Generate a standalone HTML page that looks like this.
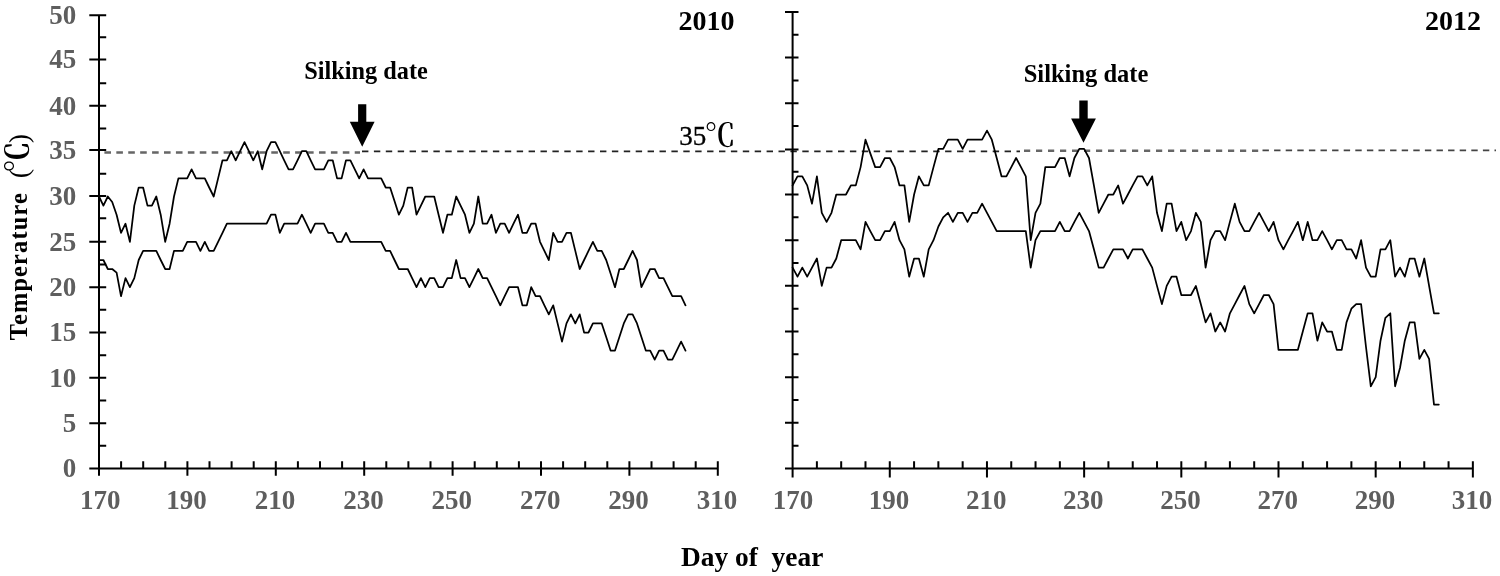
<!DOCTYPE html>
<html lang="en"><head><meta charset="utf-8"><title>Temperature by day of year</title>
<style>html,body{margin:0;padding:0;background:#fff}body{width:1500px;height:576px;overflow:hidden}svg{display:block}</style>
</head><body>
<svg width="1500" height="576" viewBox="0 0 1500 576">
<rect width="1500" height="576" fill="#fff"/>
<path d="M104.4 152.5H360" stroke="#666" stroke-width="2.6" stroke-dasharray="6.6 5.32" fill="none"/>
<path d="M362 151.4H1020" stroke="#222" stroke-width="1.7" stroke-dasharray="6.4 5.5" fill="none"/>
<path d="M1024 150.8H1260" stroke="#666" stroke-width="2.6" stroke-dasharray="6.2 5.8" fill="none"/>
<path d="M1262.5 150.4H1496" stroke="#444" stroke-width="1.7" stroke-dasharray="6.4 5.2" fill="none"/>
<path d="M99.00 15.20V475.80M89.30 468.50H717.80M89.30 423.17H106.20M89.30 377.84H106.20M89.30 332.51H106.20M89.30 287.18H106.20M89.30 241.85H106.20M89.30 196.00H106.20M89.30 149.90H106.20M89.30 105.86H106.20M89.30 59.40H106.20M89.30 15.20H106.20M99.00 445.83H106.20M99.00 400.50H106.20M99.00 355.18H106.20M99.00 309.85H106.20M99.00 264.51H106.20M99.00 218.30H106.20M99.00 173.85H106.20M99.00 128.52H106.20M99.00 83.19H106.20M99.00 37.30H106.20M187.40 461.20V475.80M275.80 461.20V475.80M364.20 461.20V475.80M452.60 461.20V475.80M541.00 461.20V475.80M629.40 461.20V475.80M717.80 461.20V475.80M121.10 461.20V468.50M143.20 461.20V468.50M165.30 461.20V468.50M209.50 461.20V468.50M231.60 461.20V468.50M253.70 461.20V468.50M297.90 461.20V468.50M320.00 461.20V468.50M342.10 461.20V468.50M386.30 461.20V468.50M408.40 461.20V468.50M430.50 461.20V468.50M474.70 461.20V468.50M496.80 461.20V468.50M518.90 461.20V468.50M563.10 461.20V468.50M585.20 461.20V468.50M607.30 461.20V468.50M651.50 461.20V468.50M673.60 461.20V468.50M695.70 461.20V468.50" stroke="#000" stroke-width="2" fill="none"/>
<path d="M792.60 11.90V477.40M785.00 468.50H1472.86M785.00 422.84H798.50M785.00 377.18H798.50M785.00 331.52H798.50M785.00 285.86H798.50M785.00 240.20H798.50M785.00 194.54H798.50M785.00 149.50H798.50M785.00 103.22H798.50M785.00 57.56H798.50M785.00 11.90H798.50M792.60 445.67H798.50M792.60 400.01H798.50M792.60 354.35H798.50M792.60 308.69H798.50M792.60 263.03H798.50M792.60 217.37H798.50M792.60 171.71H798.50M792.60 126.05H798.50M792.60 80.39H798.50M792.60 34.73H798.50M889.78 461.20V477.40M986.96 461.20V477.40M1084.14 461.20V477.40M1181.32 461.20V477.40M1278.50 461.20V477.40M1375.68 461.20V477.40M1472.86 461.20V477.40M816.89 461.20V468.50M841.19 461.20V468.50M865.49 461.20V468.50M914.08 461.20V468.50M938.37 461.20V468.50M962.66 461.20V468.50M1011.25 461.20V468.50M1035.55 461.20V468.50M1059.85 461.20V468.50M1108.43 461.20V468.50M1132.73 461.20V468.50M1157.03 461.20V468.50M1205.62 461.20V468.50M1229.91 461.20V468.50M1254.20 461.20V468.50M1302.80 461.20V468.50M1327.09 461.20V468.50M1351.38 461.20V468.50M1399.97 461.20V468.50M1424.27 461.20V468.50M1448.57 461.20V468.50" stroke="#000" stroke-width="2" fill="none"/>
<polyline points="99.0,196.5 103.4,205.6 107.8,196.5 112.2,202.0 116.6,214.7 121.0,232.8 125.5,223.7 129.9,241.8 134.3,205.6 138.7,187.5 143.1,187.5 147.5,205.6 151.9,205.6 156.3,196.5 160.7,214.7 165.2,241.8 169.6,223.7 174.0,196.5 178.4,178.4 182.8,178.4 187.2,178.4 191.6,169.3 196.0,178.4 200.4,178.4 204.8,178.4 209.2,187.5 213.7,196.5 218.1,178.4 222.5,160.3 226.9,160.3 231.3,151.2 235.7,160.3 240.1,151.2 244.5,142.1 248.9,151.2 253.3,160.3 257.8,151.2 262.2,169.3 266.6,151.2 271.0,142.1 275.4,142.1 279.8,151.2 284.2,160.3 288.6,169.3 293.0,169.3 297.5,160.3 301.9,151.2 306.3,151.2 310.7,160.3 315.1,169.3 319.5,169.3 323.9,169.3 328.3,160.3 332.7,160.3 337.1,178.4 341.6,178.4 346.0,160.3 350.4,160.3 354.8,169.3 359.2,178.4 363.6,169.3 368.0,178.4 372.4,178.4 376.8,178.4 381.2,178.4 385.7,187.5 390.1,187.5 394.5,201.1 398.9,214.7 403.3,205.6 407.7,187.5 412.1,187.5 416.5,214.7 420.9,205.6 425.3,196.5 429.8,196.5 434.2,196.5 438.6,214.7 443.0,232.8 447.4,214.7 451.8,214.7 456.2,196.5 460.6,205.6 465.0,214.7 469.4,232.8 473.9,223.7 478.3,196.5 482.7,223.7 487.1,223.7 491.5,214.7 495.9,232.8 500.3,223.7 504.7,223.7 509.1,232.8 513.5,223.7 518.0,214.7 522.4,232.8 526.8,232.8 531.2,223.7 535.6,223.7 540.0,241.8 544.4,250.9 548.8,260.0 553.2,232.8 557.6,241.8 562.0,241.8 566.5,232.8 570.9,232.8 575.3,250.9 579.7,269.0 584.1,260.0 588.5,250.9 592.9,241.8 597.3,250.9 601.7,250.9 606.2,260.0 610.6,273.6 615.0,287.2 619.4,269.0 623.8,269.0 628.2,260.0 632.6,250.9 637.0,260.0 641.4,287.2 645.8,278.1 650.2,269.0 654.7,269.0 659.1,278.1 663.5,278.1 667.9,287.2 672.3,296.2 676.7,296.2 681.1,296.2 685.5,305.3" fill="none" stroke="#000" stroke-width="1.75" stroke-linejoin="round" stroke-linecap="round"/>
<polyline points="99.0,260.0 103.4,260.0 107.8,269.0 112.2,269.0 116.6,272.7 121.0,296.2 125.5,278.1 129.9,287.2 134.3,278.1 138.7,260.0 143.1,250.9 147.5,250.9 151.9,250.9 156.3,250.9 160.7,260.0 165.2,269.0 169.6,269.0 174.0,250.9 178.4,250.9 182.8,250.9 187.2,241.8 191.6,241.8 196.0,241.8 200.4,250.9 204.8,241.8 209.2,250.9 213.7,250.9 218.1,241.8 222.5,232.8 226.9,223.7 231.3,223.7 235.7,223.7 240.1,223.7 244.5,223.7 248.9,223.7 253.3,223.7 257.8,223.7 262.2,223.7 266.6,223.7 271.0,214.7 275.4,214.7 279.8,232.8 284.2,223.7 288.6,223.7 293.0,223.7 297.5,223.7 301.9,214.7 306.3,223.7 310.7,232.8 315.1,223.7 319.5,223.7 323.9,223.7 328.3,232.8 332.7,232.8 337.1,241.8 341.6,241.8 346.0,232.8 350.4,241.8 354.8,241.8 359.2,241.8 363.6,241.8 368.0,241.8 372.4,241.8 376.8,241.8 381.2,241.8 385.7,250.9 390.1,250.9 394.5,260.0 398.9,269.0 403.3,269.0 407.7,269.0 412.1,278.1 416.5,287.2 420.9,278.1 425.3,287.2 429.8,278.1 434.2,278.1 438.6,287.2 443.0,287.2 447.4,278.1 451.8,278.1 456.2,260.0 460.6,278.1 465.0,278.1 469.4,287.2 473.9,278.1 478.3,269.0 482.7,278.1 487.1,278.1 491.5,287.2 495.9,296.2 500.3,305.3 504.7,296.2 509.1,287.2 513.5,287.2 518.0,287.2 522.4,305.3 526.8,305.3 531.2,287.2 535.6,296.2 540.0,296.2 544.4,305.3 548.8,314.4 553.2,305.3 557.6,323.4 562.0,341.6 566.5,323.4 570.9,314.4 575.3,323.4 579.7,314.4 584.1,332.5 588.5,332.5 592.9,323.4 597.3,323.4 601.7,323.4 606.2,337.0 610.6,350.6 615.0,350.6 619.4,337.0 623.8,323.4 628.2,314.4 632.6,314.4 637.0,323.4 641.4,337.0 645.8,350.6 650.2,350.6 654.7,359.7 659.1,350.6 663.5,350.6 667.9,359.7 672.3,359.7 676.7,350.6 681.1,341.6 685.5,350.6" fill="none" stroke="#000" stroke-width="1.75" stroke-linejoin="round" stroke-linecap="round"/>
<polyline points="792.6,185.4 797.5,176.3 802.3,176.3 807.2,185.4 812.0,203.7 816.9,176.3 821.8,212.8 826.6,221.9 831.5,212.8 836.3,194.5 841.2,194.5 846.0,194.5 850.9,185.4 855.8,185.4 860.6,167.1 865.5,139.7 870.3,153.4 875.2,167.1 880.1,167.1 884.9,158.0 889.8,158.0 894.6,167.1 899.5,185.4 904.4,185.4 909.2,221.9 914.1,194.5 918.9,176.3 923.8,185.4 928.7,185.4 933.5,167.1 938.4,148.9 943.2,148.9 948.1,139.7 952.9,139.7 957.8,139.7 962.7,148.9 967.5,139.7 972.4,139.7 977.2,139.7 982.1,139.7 987.0,130.6 991.8,139.7 996.7,158.0 1001.5,176.3 1006.4,176.3 1011.3,167.1 1016.1,158.0 1021.0,167.1 1025.8,176.3 1030.7,240.2 1035.5,212.8 1040.4,203.7 1045.3,167.1 1050.1,167.1 1055.0,167.1 1059.8,158.0 1064.7,158.0 1069.6,176.3 1074.4,158.0 1079.3,148.9 1084.1,148.9 1089.0,158.0 1093.9,185.4 1098.7,212.8 1103.6,203.7 1108.4,194.5 1113.3,194.5 1118.2,185.4 1123.0,203.7 1127.9,194.5 1132.7,185.4 1137.6,176.3 1142.4,176.3 1147.3,185.4 1152.2,176.3 1157.0,212.8 1161.9,231.1 1166.7,203.7 1171.6,203.7 1176.5,231.1 1181.3,221.9 1186.2,240.2 1191.0,231.1 1195.9,212.8 1200.8,221.9 1205.6,267.6 1210.5,240.2 1215.3,231.1 1220.2,231.1 1225.1,240.2 1229.9,221.9 1234.8,203.7 1239.6,221.9 1244.5,231.1 1249.3,231.1 1254.2,221.9 1259.1,212.8 1263.9,221.9 1268.8,231.1 1273.6,221.9 1278.5,240.2 1283.4,249.3 1288.2,240.2 1293.1,231.1 1297.9,221.9 1302.8,240.2 1307.7,221.9 1312.5,240.2 1317.4,240.2 1322.2,231.1 1327.1,240.2 1331.9,249.3 1336.8,240.2 1341.7,240.2 1346.5,249.3 1351.4,249.3 1356.2,258.5 1361.1,240.2 1366.0,267.6 1370.8,276.7 1375.7,276.7 1380.5,249.3 1385.4,249.3 1390.3,240.2 1395.1,276.7 1400.0,267.6 1404.8,276.7 1409.7,258.5 1414.6,258.5 1419.4,276.7 1424.3,258.5 1429.1,285.9 1434.0,313.3 1438.8,313.3" fill="none" stroke="#000" stroke-width="1.75" stroke-linejoin="round" stroke-linecap="round"/>
<polyline points="792.6,267.6 797.5,276.7 802.3,267.6 807.2,276.7 812.0,267.6 816.9,258.5 821.8,285.9 826.6,267.6 831.5,267.6 836.3,258.5 841.2,240.2 846.0,240.2 850.9,240.2 855.8,240.2 860.6,249.3 865.5,221.9 870.3,231.1 875.2,240.2 880.1,240.2 884.9,231.1 889.8,231.1 894.6,221.9 899.5,240.2 904.4,249.3 909.2,276.7 914.1,258.5 918.9,258.5 923.8,276.7 928.7,249.3 933.5,240.2 938.4,226.5 943.2,217.4 948.1,212.8 952.9,221.9 957.8,212.8 962.7,212.8 967.5,221.9 972.4,212.8 977.2,212.8 982.1,203.7 987.0,212.8 991.8,221.9 996.7,231.1 1001.5,231.1 1006.4,231.1 1011.3,231.1 1016.1,231.1 1021.0,231.1 1025.8,231.1 1030.7,267.6 1035.5,240.2 1040.4,231.1 1045.3,231.1 1050.1,231.1 1055.0,231.1 1059.8,221.9 1064.7,231.1 1069.6,231.1 1074.4,221.9 1079.3,212.8 1084.1,221.9 1089.0,231.1 1093.9,249.3 1098.7,267.6 1103.6,267.6 1108.4,258.5 1113.3,249.3 1118.2,249.3 1123.0,249.3 1127.9,258.5 1132.7,249.3 1137.6,249.3 1142.4,249.3 1147.3,258.5 1152.2,267.6 1157.0,285.9 1161.9,304.1 1166.7,285.9 1171.6,276.7 1176.5,276.7 1181.3,295.0 1186.2,295.0 1191.0,295.0 1195.9,285.9 1200.8,304.1 1205.6,322.4 1210.5,313.3 1215.3,331.5 1220.2,322.4 1225.1,331.5 1229.9,313.3 1234.8,304.1 1239.6,295.0 1244.5,285.9 1249.3,304.1 1254.2,313.3 1259.1,304.1 1263.9,295.0 1268.8,295.0 1273.6,304.1 1278.5,349.8 1283.4,349.8 1288.2,349.8 1293.1,349.8 1297.9,349.8 1302.8,331.5 1307.7,313.3 1312.5,313.3 1317.4,340.7 1322.2,322.4 1327.1,331.5 1331.9,331.5 1336.8,349.8 1341.7,349.8 1346.5,322.4 1351.4,308.7 1356.2,304.1 1361.1,304.1 1366.0,347.0 1370.8,386.3 1375.7,377.2 1380.5,340.7 1385.4,317.8 1390.3,313.3 1395.1,386.3 1400.0,368.0 1404.8,340.7 1409.7,322.4 1414.6,322.4 1419.4,358.9 1424.3,349.8 1429.1,358.9 1434.0,404.6 1438.8,404.6" fill="none" stroke="#000" stroke-width="1.75" stroke-linejoin="round" stroke-linecap="round"/>
<g font-family="'Liberation Serif','Noto Serif CJK SC',serif" font-weight="bold" font-size="27" fill="#5e5e5e">
<text x="76.3" y="477.4" text-anchor="end">0</text>
<text x="76.3" y="432.1" text-anchor="end">5</text>
<text x="76.3" y="386.7" text-anchor="end">10</text>
<text x="76.3" y="341.4" text-anchor="end">15</text>
<text x="76.3" y="296.1" text-anchor="end">20</text>
<text x="76.3" y="250.8" text-anchor="end">25</text>
<text x="76.3" y="204.9" text-anchor="end">30</text>
<text x="76.3" y="158.8" text-anchor="end">35</text>
<text x="76.3" y="114.8" text-anchor="end">40</text>
<text x="76.3" y="68.3" text-anchor="end">45</text>
<text x="76.3" y="24.1" text-anchor="end">50</text>
<text x="100.2" y="508.8" text-anchor="middle">170</text>
<text x="186.6" y="508.8" text-anchor="middle">190</text>
<text x="275.0" y="508.8" text-anchor="middle">210</text>
<text x="363.4" y="508.8" text-anchor="middle">230</text>
<text x="451.8" y="508.8" text-anchor="middle">250</text>
<text x="540.2" y="508.8" text-anchor="middle">270</text>
<text x="628.6" y="508.8" text-anchor="middle">290</text>
<text x="717.0" y="508.8" text-anchor="middle">310</text>
<text x="793.1" y="508.8" text-anchor="middle">170</text>
<text x="889.0" y="508.8" text-anchor="middle">190</text>
<text x="986.2" y="508.8" text-anchor="middle">210</text>
<text x="1083.3" y="508.8" text-anchor="middle">230</text>
<text x="1180.5" y="508.8" text-anchor="middle">250</text>
<text x="1277.7" y="508.8" text-anchor="middle">270</text>
<text x="1374.9" y="508.8" text-anchor="middle">290</text>
<text x="1472.1" y="508.8" text-anchor="middle">310</text>
</g>
<g font-family="'Liberation Serif','Noto Serif CJK SC',serif" font-weight="bold" fill="#000">
<text x="752.2" y="566" font-size="27.4" text-anchor="middle" xml:space="preserve">Day of  year</text>
<text x="706.5" y="29.7" font-size="28" text-anchor="middle">2010</text>
<text x="1453" y="29.7" font-size="28" text-anchor="middle">2012</text>
<text x="366" y="79" font-size="24.3" text-anchor="middle">Silking date</text>
<text x="1086" y="81.8" font-size="24.5" text-anchor="middle">Silking date</text>
<text transform="translate(27 340.2) rotate(-90)" font-size="24.3" letter-spacing="1.2">Temperature</text>
<text transform="translate(28 178.3) rotate(-90)" font-size="28" font-weight="normal">(</text>
<text transform="translate(28.4 157) rotate(-90)" font-size="31" font-weight="700" text-anchor="middle">℃</text>
<text transform="translate(28 143.2) rotate(-90)" font-size="28" font-weight="normal">)</text>
</g>
<text x="679.3" y="145.3" font-size="27" font-family="'Liberation Serif','Noto Serif CJK SC',serif" fill="#000" stroke="#000" stroke-width="0.35">35</text>
<text x="704.5" y="146.3" font-size="31" font-weight="600" font-family="'Liberation Serif','Noto Serif CJK SC',serif" fill="#000">℃</text>
<path d="M358.1 104.2H366.3V121.8H374.6L362.2 146.8L349.8 121.8H358.1Z" fill="#000"/>
<path d="M1079.3 100.5H1087.7V118.6H1095.9L1083.5 142.7L1071.1 118.6H1079.3Z" fill="#000"/>
</svg>
</body></html>
